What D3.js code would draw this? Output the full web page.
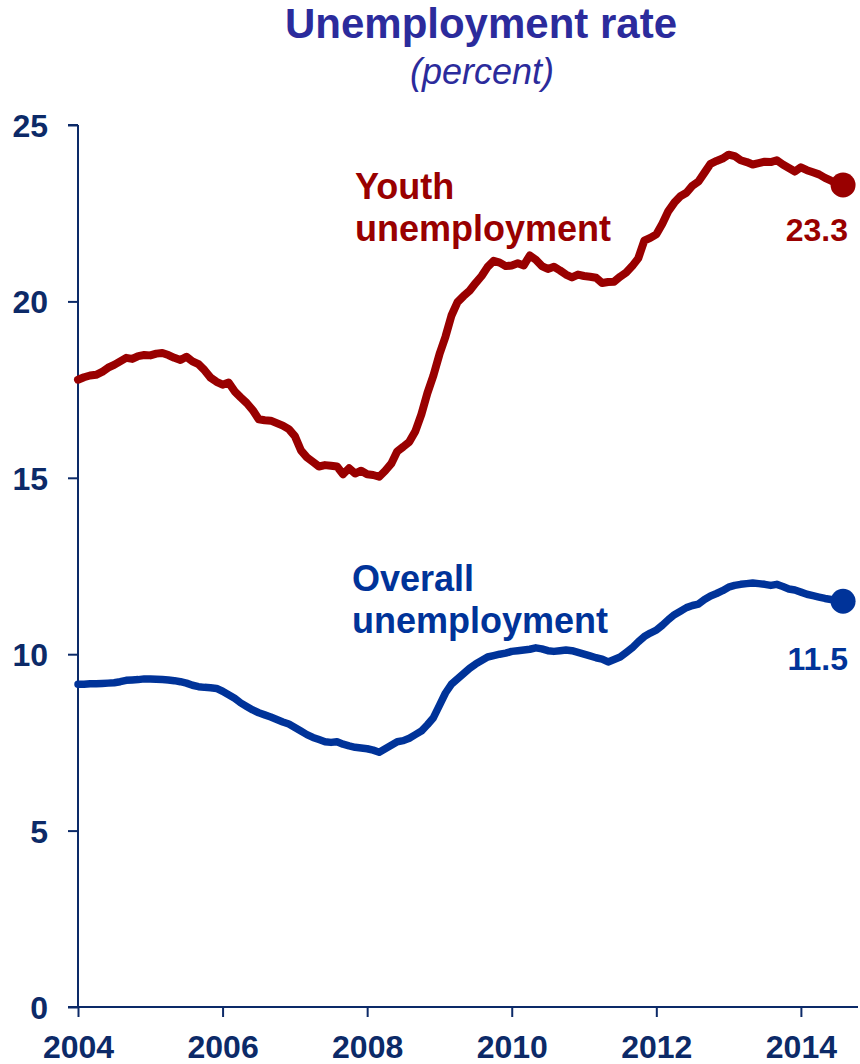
<!DOCTYPE html>
<html>
<head>
<meta charset="utf-8">
<script src="https://cdn.jsdelivr.net/npm/d3@7/dist/d3.min.js"></script>
<style>
  html, body { margin: 0; padding: 0; background: #fff; }
  svg { display: block; font-family: "Liberation Sans", Arial, sans-serif; }
</style>
</head>
<body>
<svg id="chart" width="860" height="1064"></svg>
<script>
// Monthly series, January 2004 through August 2014
const startYear = 2004;
const youth = [
  17.78, 17.85, 17.90, 17.92, 18.00, 18.12, 18.20, 18.30, 18.40, 18.37, 18.45, 18.48,
  18.47, 18.52, 18.54, 18.48, 18.40, 18.34, 18.43, 18.30, 18.22, 18.05, 17.84, 17.72,
  17.64, 17.70, 17.45, 17.28, 17.12, 16.92, 16.66, 16.63, 16.62, 16.55, 16.48, 16.38,
  16.18, 15.78, 15.58, 15.45, 15.32, 15.36, 15.34, 15.32, 15.10, 15.27, 15.12, 15.20,
  15.10, 15.08, 15.03, 15.20, 15.40, 15.75, 15.88, 16.02, 16.32, 16.80, 17.40, 17.90,
  18.50, 19.00, 19.60, 19.98, 20.15, 20.30, 20.52, 20.72, 20.98, 21.15, 21.10, 21.00,
  21.02, 21.08, 21.02, 21.30, 21.18, 21.00, 20.92, 20.98, 20.88, 20.76, 20.68, 20.76,
  20.72, 20.70, 20.67, 20.52, 20.55, 20.56, 20.70, 20.82, 21.00, 21.22, 21.72, 21.80,
  21.90, 22.20, 22.56, 22.80, 22.98, 23.08, 23.28, 23.40, 23.65, 23.90, 23.98, 24.05,
  24.16, 24.12, 24.00, 23.95, 23.88, 23.92, 23.96, 23.95, 24.00, 23.88, 23.78, 23.68,
  23.80, 23.72, 23.66, 23.60, 23.50, 23.42, 23.36, 23.30
];
const overall = [
  9.15, 9.15, 9.16, 9.16, 9.17, 9.18, 9.19, 9.22, 9.26, 9.27, 9.28, 9.30,
  9.30, 9.29, 9.28, 9.27, 9.25, 9.22, 9.18, 9.12, 9.08, 9.06, 9.05, 9.03,
  8.95, 8.85, 8.75, 8.62, 8.52, 8.42, 8.34, 8.28, 8.22, 8.15, 8.08, 8.02,
  7.92, 7.82, 7.72, 7.64, 7.58, 7.52, 7.50, 7.52, 7.45, 7.40, 7.36, 7.34,
  7.32, 7.28, 7.22, 7.32, 7.42, 7.52, 7.55, 7.62, 7.72, 7.82, 8.00, 8.20,
  8.55, 8.90, 9.15, 9.30, 9.45, 9.60, 9.72, 9.82, 9.92, 9.96, 10.00, 10.03,
  10.08, 10.10, 10.12, 10.14, 10.18, 10.15, 10.10, 10.08, 10.10, 10.12, 10.10, 10.05,
  10.00, 9.95, 9.90, 9.86, 9.78, 9.85, 9.92, 10.05, 10.18, 10.35, 10.50, 10.60,
  10.68, 10.82, 10.98, 11.12, 11.22, 11.32, 11.38, 11.42, 11.55, 11.65, 11.72, 11.80,
  11.90, 11.95, 11.98, 12.00, 12.02, 12.00, 11.98, 11.95, 11.98, 11.92, 11.85, 11.82,
  11.76, 11.70, 11.66, 11.62, 11.58, 11.55, 11.52, 11.50
];
const yearTicks = [2004, 2006, 2008, 2010, 2012, 2014];
const valueTicks = [0, 5, 10, 15, 20, 25];
const seriesNames = [["Youth", "unemployment"], ["Overall", "unemployment"]];
const lastLabels = ["23.3", "11.5"];

const navy = "#0c2a68";
const titleColor = "#2b2b9c";
const red = "#990000";
const blue = "#003399";

const svg = d3.select("#chart");

const x = d3.scaleLinear().domain([2004, 2014.79]).range([78, 858]);
const y = d3.scaleLinear().domain([0, 25]).range([1007, 125]);

const toPoints = arr => arr.map((v, i) => ({ t: startYear + i / 12, v }));

// Title
svg.append("text")
  .attr("x", 481).attr("y", 38)
  .attr("text-anchor", "middle")
  .attr("font-size", 42).attr("font-weight", "bold")
  .attr("fill", titleColor)
  .text("Unemployment rate");
svg.append("text")
  .attr("x", 482).attr("y", 84)
  .attr("text-anchor", "middle")
  .attr("font-size", 36).attr("font-style", "italic")
  .attr("fill", titleColor)
  .text("(percent)");

// Axes
const yAxis = d3.axisLeft(y).tickValues(valueTicks).tickSize(10).tickPadding(20);
const gy = svg.append("g").attr("transform", "translate(78,0)").call(yAxis);
gy.select(".domain").attr("d", `M0,${y(25)}H-10M0,${y(25)}V${y(0)}`);

const xAxis = d3.axisBottom(x).tickValues(yearTicks).tickFormat(d3.format("d")).tickSize(10).tickPadding(18);
const gx = svg.append("g").attr("transform", `translate(0,${y(0)})`).call(xAxis);
gx.select(".domain").attr("d", "M68,0H858");

[gy, gx].forEach(g => {
  g.selectAll(".domain").attr("stroke", navy).attr("stroke-width", 2).attr("fill", "none");
  g.selectAll(".tick line").attr("stroke", navy).attr("stroke-width", 2);
  g.selectAll(".tick text")
    .attr("fill", navy)
    .attr("font-size", 32)
    .attr("font-weight", "bold")
    .attr("font-family", "'Liberation Sans', Arial, sans-serif");
});
gy.selectAll(".tick text").attr("dy", "0.36em");
gx.selectAll(".tick text").attr("dy", "0.71em");

// Lines
const line = d3.line().x(d => x(d.t)).y(d => y(d.v)).curve(d3.curveLinear);

const series = [
  { data: toPoints(youth), color: red, width: 8 },
  { data: toPoints(overall), color: blue, width: 7.5 }
];

series.forEach(s => {
  svg.append("path")
    .datum(s.data)
    .attr("d", line)
    .attr("fill", "none")
    .attr("stroke", s.color)
    .attr("stroke-width", s.width)
    .attr("stroke-linejoin", "round")
    .attr("stroke-linecap", "round");
  const last = s.data[s.data.length - 1];
  svg.append("circle")
    .attr("cx", x(last.t)).attr("cy", y(last.v))
    .attr("r", 12.5)
    .attr("fill", s.color);
});

// Series names
const nameLayout = [
  { x: 355, y: 199, color: red },
  { x: 352, y: 591, color: blue }
];
seriesNames.forEach((lines, i) => {
  const t = svg.append("text")
    .attr("x", nameLayout[i].x).attr("y", nameLayout[i].y)
    .attr("font-size", 36).attr("font-weight", "bold")
    .attr("fill", nameLayout[i].color);
  lines.forEach((ln, j) => {
    t.append("tspan").attr("x", nameLayout[i].x).attr("dy", j === 0 ? 0 : 42).text(ln);
  });
});

// End-value labels
const endLayout = [
  { y: 241, color: red },
  { y: 670, color: blue }
];
lastLabels.forEach((lbl, i) => {
  svg.append("text")
    .attr("x", 848).attr("y", endLayout[i].y)
    .attr("text-anchor", "end")
    .attr("font-size", 32).attr("font-weight", "bold")
    .attr("fill", endLayout[i].color)
    .text(lbl);
});
</script>
</body>
</html>
